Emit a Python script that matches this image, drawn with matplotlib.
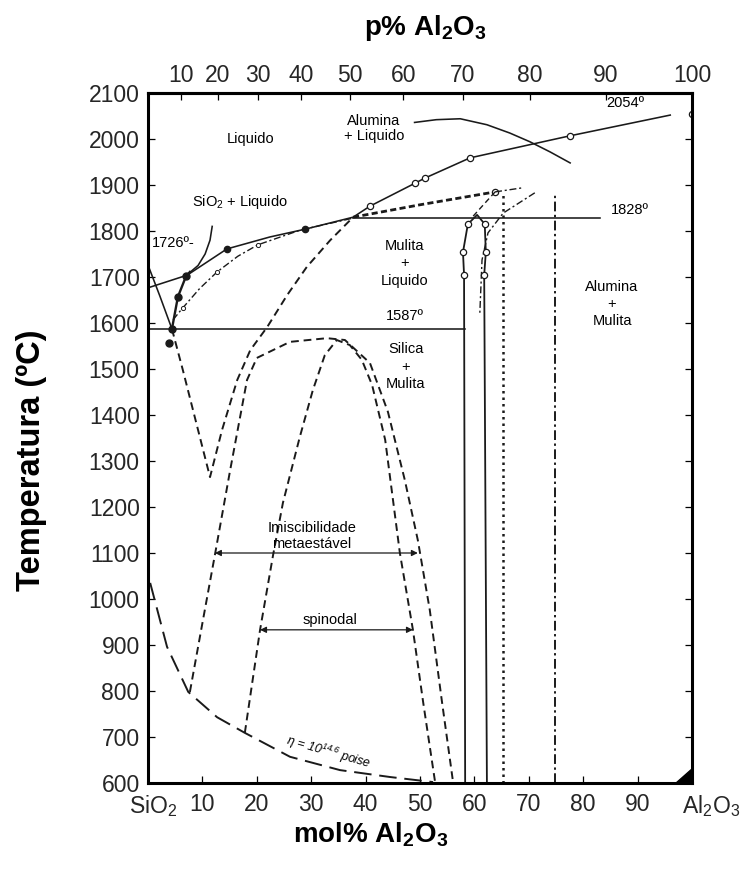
import numpy as np
import matplotlib
matplotlib.use("Agg")
import matplotlib.pyplot as plt
import matplotlib.transforms as mtransforms

plt.rcParams['font.family'] = ['Liberation Sans', 'DejaVu Sans']
plt.rcParams['mathtext.default'] = 'regular'

# --- data: x = mol% Al2O3, t = temperature (C) ---
# main liquidus (solid)
liq_x = [0.4, 7.2, 14.5, 22.4, 28.9, 37.7, 40.8, 49.1, 50.9, 59.2, 77.6, 96.0]
liq_t = [1678, 1704, 1761, 1787, 1804, 1830, 1854, 1904, 1915, 1959, 2007, 2052]
liq_open_x = [40.8, 49.1, 50.9, 59.2, 77.6, 100.0]
liq_open_t = [1854, 1904, 1915, 1959, 2007, 2054]
liq_fill_x = [14.5, 28.9]
liq_fill_t = [1761, 1804]

# cristobalite liquidus down to eutectic
crist_x = [0.0, 2.2, 4.4]
crist_t = [1726, 1658, 1587]

# steep solid branch from the eutectic
steep_x = [4.4, 5.5, 7.0, 7.7]
steep_t = [1587, 1657, 1702, 1711]
steep_fill_x = [3.9, 4.4, 5.5, 7.0]
steep_fill_t = [1557, 1587, 1657, 1702]

# arc next to 1726 label
arc_x = [11.8, 11.4, 10.5, 9.2, 7.5]
arc_t = [1810, 1780, 1750, 1725, 1708]

# dash-dot liquidus with small circles
dd_x = [4.6, 6.4, 9.5, 12.7, 16.5, 20.2, 28.0, 37.7]
dd_t = [1607, 1633, 1675, 1711, 1745, 1770, 1802, 1828]
dd_open_x = [6.4, 12.7, 20.2]
dd_open_t = [1633, 1711, 1770]

# heavy dashed metastable mullite liquidus
heavy_x = [37.7, 50.0, 63.8]
heavy_t = [1830, 1857, 1885]
top_dd_x = [63.8, 68.9]
top_dd_t = [1885, 1894]
drop_x = [63.8, 59.6]
drop_t = [1885, 1830]
side_dd_x = [71.1, 65.3, 62.5, 61.4, 61.0]
side_dd_t = [1883, 1839, 1796, 1737, 1622]

# mullite solid solution field
mul_x = [58.3, 58.1, 57.9, 58.8, 60.5, 61.9, 62.1, 61.8, 62.3]
mul_t = [600, 1704, 1754, 1815, 1835, 1815, 1754, 1704, 600]
mul_open_x = [58.1, 57.9, 58.8, 61.9, 62.1, 61.8]
mul_open_t = [1704, 1754, 1815, 1815, 1754, 1704]

# verticals
dotted_x = 65.3
dotted_top = 1885
dashdot_x = 74.8
dashdot_top = 1883

# isotherms
t_eut = 1587
eut_x = [0.0, 58.3]
t_per = 1828
per_x = [37.7, 83.1]

# alumina + liquid dome (solid)
dome_x = [49.0, 53.0, 57.4, 62.3, 66.5, 70.2, 73.9, 77.6]
dome_t = [2036, 2042, 2044, 2031, 2013, 1994, 1972, 1948]

# V-shaped metastable cristobalite / mullite liquidus (dashed)
v_x = [4.4, 6.4, 11.4, 13.6, 16.4, 18.8, 21.9, 25.6, 29.2, 33.5, 37.7]
v_t = [1587, 1498, 1265, 1367, 1476, 1541, 1591, 1661, 1722, 1780, 1830]

# metastable immiscibility (binodal) dome
bin_x = [7.7, 10.1, 12.3, 15.1, 18.2, 20.0, 26.1, 32.9, 36.2, 40.8, 44.1,
         47.2, 49.6, 51.8, 54.0, 56.1]
bin_t = [798, 954, 1096, 1280, 1476, 1524, 1559, 1567, 1563, 1513, 1407,
         1259, 1128, 976, 780, 600]

# spinodal dome
spin_x = [17.8, 20.6, 23.0, 24.8, 27.9, 30.3, 32.5, 34.7, 37.1, 39.3, 41.2,
          43.6, 46.3, 48.7, 50.6, 52.8]
spin_t = [709, 933, 1096, 1209, 1352, 1454, 1530, 1563, 1552, 1520, 1465,
          1346, 1100, 933, 774, 600]

# viscosity iso-line eta = 10^14.6 poise
visc_x = [0.4, 3.5, 7.4, 12.7, 17.8, 26.1, 35.3, 44.5, 52.4]
visc_t = [1035, 896, 798, 743, 709, 657, 628, 613, 602]

# arrows
bin_arrow = (12.3, 49.6, 1100)
spin_arrow = (20.6, 48.7, 933)

corner_x = [96.9, 100.0, 100.0]
corner_t = [600, 600, 633]

y_ticks = list(range(600, 2101, 100))
x_ticks = [0, 10, 20, 30, 40, 50, 60, 70, 80, 90, 100]
x_labels = ['SiO$_2$', '10', '20', '30', '40', '50', '60', '70', '80', '90',
            'Al$_2$O$_3$']
wt_ticks = [10, 20, 30, 40, 50, 60, 70, 80, 90, 100]

M_AL, M_SI = 101.96, 60.08


def mol2wt(m):
    m = np.asarray(m, dtype=float)
    return 100 * m * M_AL / (m * M_AL + (100 - m) * M_SI)


def wt2mol(w):
    w = np.asarray(w, dtype=float)
    a = w / M_AL
    return 100 * a / (a + (100 - w) / M_SI)


fig = plt.figure(figsize=(7.44, 8.86), dpi=100)
ax = fig.add_axes([148 / 744, 103 / 886, 544 / 744, 690 / 886])
ax.set_xlim(0, 100)
ax.set_ylim(600, 2100)

K = '#1a1a1a'
thin = 1.15

ax.plot(liq_x, liq_t, color=K, lw=thin)
ax.plot(liq_open_x, liq_open_t, 'o', ms=4.5, mfc='white', mec=K, mew=0.9)
ax.plot(liq_fill_x, liq_fill_t, 'o', ms=4.5, color=K)
ax.plot(crist_x, crist_t, color=K, lw=thin)
ax.plot(steep_x, steep_t, color=K, lw=1.7)
ax.plot(steep_fill_x, steep_fill_t, 'o', ms=5, color=K)
ax.plot(arc_x, arc_t, color=K, lw=thin)
ax.plot(dd_x, dd_t, color=K, lw=1.0, dashes=(5, 2, 1.5, 2))
ax.plot(dd_open_x, dd_open_t, 'o', ms=3, mfc='white', mec=K, mew=0.7)

ax.plot(heavy_x, heavy_t, color=K, lw=2.0, dashes=(2.2, 1.2))
ax.plot([heavy_x[-1]], [heavy_t[-1]], 'o', ms=4.5, mfc='white', mec=K, mew=0.9)
ax.plot(top_dd_x, top_dd_t, color=K, lw=1.0, dashes=(5, 2, 1.5, 2))
ax.plot(drop_x, drop_t, color=K, lw=1.0, dashes=(4, 2.5))
ax.plot(side_dd_x, side_dd_t, color=K, lw=1.0, dashes=(5, 2, 1.5, 2))

ax.plot(mul_x, mul_t, color=K, lw=1.3)
ax.plot(mul_open_x, mul_open_t, 'o', ms=4.5, mfc='white', mec=K, mew=0.9)
ax.plot([dotted_x, dotted_x], [600, dotted_top], color=K, lw=1.8,
        dashes=(1, 1.6))
ax.plot([dashdot_x, dashdot_x], [600, dashdot_top], color=K, lw=1.4,
        dashes=(5, 1.8, 1.2, 1.8))

ax.plot(eut_x, [t_eut, t_eut], color=K, lw=thin)
ax.plot(per_x, [t_per, t_per], color=K, lw=thin)
ax.plot(dome_x, dome_t, color=K, lw=thin)

ax.plot(v_x, v_t, color=K, lw=1.4, dashes=(4, 2.5))
ax.plot(bin_x, bin_t, color=K, lw=1.4, dashes=(4, 2.5))
ax.plot(spin_x, spin_t, color=K, lw=1.4, dashes=(4, 2.5))
ax.plot(visc_x, visc_t, color=K, lw=1.4, dashes=(9, 4))

for x0, x1, t in (bin_arrow, spin_arrow):
    ax.annotate('', xy=(x1, t), xytext=(x0, t),
                arrowprops=dict(arrowstyle='<|-|>', color=K, lw=0.9,
                                mutation_scale=9, shrinkA=0, shrinkB=0))

ax.fill(corner_x, corner_t, color='black', zorder=5)

fs = 10.5
ax.text(18.8, 2000, 'Liquido', fontsize=fs, ha='center', va='center')
ax.text(41.5, 2022, 'Alumina\n+ Liquido', fontsize=fs, ha='center',
        va='center', linespacing=1.1)
ax.text(87.7, 2078, '2054º', fontsize=fs, ha='center', va='center')
ax.text(16.9, 1863, 'SiO$_2$ + Liquido', fontsize=fs, ha='center',
        va='center')
ax.text(0.7, 1774, '1726º-', fontsize=fs, ha='left', va='center')
ax.text(88.6, 1846, '1828º', fontsize=fs, ha='center', va='center')
ax.text(47.2, 1730, 'Mulita\n+\nLiquido', fontsize=fs, ha='center',
        va='center', linespacing=1.3)
ax.text(47.2, 1615, '1587º', fontsize=fs, ha='center', va='center')
ax.text(47.4, 1505, 'Silica\n+\nMulita', fontsize=fs, ha='center',
        va='center', linespacing=1.3)
ax.text(85.3, 1641, 'Alumina\n+\nMulita', fontsize=fs, ha='center',
        va='center', linespacing=1.3)
ax.text(30.1, 1137, 'Imiscibilidade\nmetaestável', fontsize=fs,
        ha='center', va='center', linespacing=1.1)
ax.text(33.5, 954, 'spinodal', fontsize=fs, ha='center', va='center')
ax.text(33.1, 667, 'η = 10$^{14.6}$ poise', fontsize=9, ha='center',
        va='center', rotation=-16, style='italic')

# axes styling
for s in ax.spines.values():
    s.set_linewidth(2.2)
ax.set_yticks(y_ticks)
ax.set_xticks(x_ticks)
ax.set_xticklabels(x_labels)
ax.tick_params(axis='both', direction='in', length=5, width=0.9,
               labelsize=16.5, labelcolor='#262626')
ax.tick_params(axis='y', right=True, pad=6)
ax.tick_params(axis='x', pad=7)
# the end labels sit a little off their ticks in the original
shift_r = mtransforms.ScaledTranslation(14 / 72, 0, fig.dpi_scale_trans)
shift_l = mtransforms.ScaledTranslation(4 / 72, 0, fig.dpi_scale_trans)
xlabs = ax.get_xticklabels()
xlabs[-1].set_transform(xlabs[-1].get_transform() + shift_r)
xlabs[0].set_transform(xlabs[0].get_transform() + shift_l)

sec = ax.secondary_xaxis('top', functions=(mol2wt, wt2mol))
sec.set_xticks(wt_ticks)
sec.tick_params(direction='in', length=5, width=0.9, labelsize=16.5,
                labelcolor='#262626', pad=4)
sec.spines['top'].set_linewidth(2.2)

fig.text(32 / 744, 1 - 460 / 886, 'Temperatura (ºC)', rotation=90,
         fontsize=23.5, fontweight='bold', ha='center', va='center')
fig.text(371 / 744, 1 - 835 / 886, 'mol% Al$_2$O$_3$', fontsize=20,
         fontweight='bold', ha='center', va='center')
fig.text(425 / 744, 1 - 28 / 886, 'p% Al$_2$O$_3$', fontsize=20,
         fontweight='bold', ha='center', va='center')

fig.savefig('out.png', dpi=100)
